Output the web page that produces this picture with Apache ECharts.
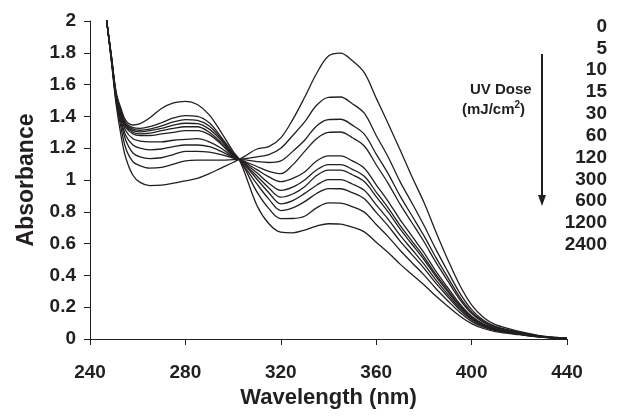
<!DOCTYPE html>
<html>
<head>
<meta charset="utf-8">
<script src="https://cdn.jsdelivr.net/npm/echarts@6/dist/echarts.min.js"></script>
<style>
html,body{margin:0;padding:0;background:#fff;}
#chart{width:631px;height:418px;}
</style>
</head>
<body>
<div id="chart"></div>
<script>
// Wavelengths (nm)
var wavelengths = [245, 247, 249, 251, 253, 255, 258, 261, 265, 270, 275, 280, 285, 290, 295, 300, 302.5, 305, 310, 315, 320, 325, 330, 335, 340, 345, 350, 355, 360, 365, 370, 375, 380, 385, 390, 395, 400, 405, 410, 420, 430, 440];

// UV dose labels (mJ/cm2)
var doses = ['0', '5', '10', '15', '30', '60', '120', '300', '600', '1200', '2400'];

// Absorbance for each dose
var abs0 = [2.25, 2.0, 1.74, 1.47, 1.28, 1.14, 1.03, 0.985, 0.965, 0.968, 0.98, 0.995, 1.01, 1.04, 1.075, 1.11, 1.13, 1.15, 1.195, 1.21, 1.265, 1.38, 1.52, 1.67, 1.78, 1.798, 1.75, 1.675, 1.515, 1.355, 1.19, 1.02, 0.86, 0.675, 0.50, 0.34, 0.215, 0.135, 0.09, 0.048, 0.018, 0.005];
var abs5 = [2.25, 2.0, 1.75, 1.49, 1.33, 1.20, 1.115, 1.09, 1.075, 1.08, 1.10, 1.12, 1.125, 1.125, 1.125, 1.128, 1.13, 1.135, 1.145, 1.16, 1.20, 1.28, 1.365, 1.47, 1.52, 1.522, 1.48, 1.42, 1.28, 1.145, 0.99, 0.855, 0.715, 0.565, 0.425, 0.29, 0.185, 0.118, 0.08, 0.043, 0.016, 0.005];
var abs10 = [2.25, 2.0, 1.755, 1.50, 1.36, 1.25, 1.17, 1.145, 1.135, 1.14, 1.16, 1.18, 1.18, 1.175, 1.16, 1.138, 1.13, 1.126, 1.115, 1.11, 1.12, 1.18, 1.25, 1.34, 1.38, 1.382, 1.345, 1.288, 1.163, 1.04, 0.90, 0.775, 0.65, 0.513, 0.388, 0.265, 0.17, 0.11, 0.075, 0.04, 0.015, 0.004];
var abs15 = [2.25, 2.0, 1.76, 1.51, 1.38, 1.28, 1.22, 1.20, 1.19, 1.195, 1.21, 1.22, 1.22, 1.21, 1.18, 1.142, 1.13, 1.116, 1.085, 1.055, 1.04, 1.095, 1.18, 1.26, 1.30, 1.302, 1.266, 1.214, 1.096, 0.979, 0.848, 0.731, 0.613, 0.483, 0.365, 0.25, 0.16, 0.104, 0.071, 0.038, 0.014, 0.004];
var abs30 = [2.25, 2.0, 1.76, 1.52, 1.40, 1.31, 1.26, 1.245, 1.24, 1.24, 1.25, 1.255, 1.26, 1.24, 1.20, 1.146, 1.13, 1.11, 1.065, 1.02, 0.99, 1.01, 1.05, 1.12, 1.152, 1.152, 1.12, 1.074, 0.97, 0.866, 0.751, 0.647, 0.543, 0.427, 0.323, 0.222, 0.143, 0.094, 0.065, 0.035, 0.013, 0.004];
var abs60 = [2.25, 2.0, 1.765, 1.52, 1.41, 1.33, 1.29, 1.28, 1.28, 1.29, 1.30, 1.31, 1.31, 1.285, 1.225, 1.15, 1.13, 1.104, 1.045, 0.98, 0.935, 0.955, 1.0, 1.063, 1.097, 1.097, 1.067, 1.023, 0.924, 0.825, 0.715, 0.616, 0.517, 0.407, 0.308, 0.212, 0.138, 0.09, 0.063, 0.034, 0.013, 0.004];
var abs120 = [2.25, 2.0, 1.765, 1.53, 1.42, 1.34, 1.30, 1.29, 1.295, 1.31, 1.325, 1.335, 1.335, 1.30, 1.235, 1.155, 1.13, 1.098, 1.025, 0.95, 0.892, 0.912, 0.958, 1.028, 1.062, 1.062, 1.033, 0.99, 0.895, 0.799, 0.692, 0.596, 0.50, 0.394, 0.298, 0.205, 0.134, 0.088, 0.061, 0.033, 0.012, 0.004];
var abs300 = [2.25, 2.0, 1.77, 1.53, 1.425, 1.345, 1.31, 1.303, 1.31, 1.325, 1.345, 1.357, 1.355, 1.32, 1.25, 1.16, 1.13, 1.092, 1.005, 0.92, 0.85, 0.87, 0.916, 0.967, 1.002, 1.002, 0.975, 0.935, 0.844, 0.754, 0.653, 0.563, 0.472, 0.372, 0.281, 0.194, 0.127, 0.084, 0.058, 0.032, 0.012, 0.004];
var abs600 = [2.25, 2.0, 1.77, 1.535, 1.43, 1.35, 1.32, 1.313, 1.32, 1.34, 1.365, 1.38, 1.375, 1.34, 1.26, 1.165, 1.13, 1.08, 0.975, 0.88, 0.808, 0.825, 0.864, 0.915, 0.946, 0.945, 0.92, 0.882, 0.796, 0.711, 0.616, 0.531, 0.446, 0.351, 0.266, 0.184, 0.121, 0.08, 0.056, 0.031, 0.012, 0.004];
var abs1200 = [2.25, 2.0, 1.775, 1.54, 1.435, 1.36, 1.33, 1.325, 1.335, 1.36, 1.39, 1.405, 1.40, 1.36, 1.27, 1.17, 1.13, 1.07, 0.925, 0.82, 0.757, 0.758, 0.772, 0.825, 0.856, 0.855, 0.832, 0.798, 0.72, 0.644, 0.558, 0.48, 0.403, 0.318, 0.241, 0.168, 0.111, 0.074, 0.052, 0.029, 0.011, 0.003];
var abs2400 = [2.25, 2.0, 1.78, 1.55, 1.45, 1.375, 1.346, 1.355, 1.39, 1.45, 1.485, 1.495, 1.475, 1.41, 1.30, 1.18, 1.13, 1.04, 0.84, 0.725, 0.672, 0.668, 0.685, 0.71, 0.725, 0.722, 0.703, 0.674, 0.609, 0.544, 0.471, 0.406, 0.341, 0.27, 0.206, 0.145, 0.097, 0.066, 0.047, 0.027, 0.01, 0.003];

var allAbs = [abs0, abs5, abs10, abs15, abs30, abs60, abs120, abs300, abs600, abs1200, abs2400];

var xTicks = [240, 280, 320, 360, 400, 440];
var yTicks = [0, 0.2, 0.4, 0.6, 0.8, 1, 1.2, 1.4, 1.6, 1.8, 2];

var INK = '#231f20';
var FONT = '"Liberation Sans", Arial, Helvetica, sans-serif';

var chart = echarts.init(document.getElementById('chart'), null, {renderer: 'canvas'});

var series = allAbs.map(function (arr, i) {
  return {
    name: doses[i],
    type: 'line',
    data: wavelengths.map(function (w, j) { return [w, arr[j]]; }),
    showSymbol: false,
    symbol: 'none',
    smooth: 0.35,
    clip: true,
    lineStyle: {color: INK, width: 1.3},
    silent: true,
    animation: false
  };
});

var graphics = [];
doses.forEach(function (d, i) {
  graphics.push({
    type: 'text',
    right: 24,
    top: 17 + i * 21.84,
    style: {text: d, font: 'bold 19px ' + FONT, fill: INK, textAlign: 'right'}
  });
});
graphics.push({
  type: 'text', left: 470, top: 82,
  style: {text: 'UV Dose', font: 'bold 15px ' + FONT, fill: INK}
});
graphics.push({
  type: 'text', left: 462, top: 100,
  style: {
    text: '{a|(mJ/cm}{s|2}{a|)}',
    rich: {
      a: {fontFamily: FONT, fontWeight: 'bold', fontSize: 15, lineHeight: 20, fill: INK, color: INK},
      s: {fontFamily: FONT, fontWeight: 'bold', fontSize: 10, lineHeight: 20, verticalAlign: 'top', fill: INK, color: INK}
    }
  }
});
graphics.push({
  type: 'line', shape: {x1: 542, y1: 54, x2: 542, y2: 197},
  style: {stroke: INK, lineWidth: 2}
});
graphics.push({
  type: 'polygon', shape: {points: [[538, 195], [546, 195], [542, 206]]},
  style: {fill: INK}
});

chart.setOption({
  animation: false,
  backgroundColor: '#fff',
  grid: {left: 90, right: 64, top: 21, bottom: 79, containLabel: false},
  xAxis: {
    type: 'value',
    min: xTicks[0], max: xTicks[xTicks.length - 1], interval: 40,
    name: 'Wavelength (nm)',
    nameLocation: 'middle',
    nameGap: 42,
    nameTextStyle: {fontFamily: FONT, fontWeight: 'bold', fontSize: 22, color: INK},
    axisLine: {show: true, lineStyle: {color: INK, width: 1}},
    axisTick: {show: true, inside: false, length: 6, lineStyle: {color: INK, width: 1}},
    axisLabel: {margin: 24, fontFamily: FONT, fontWeight: 'bold', fontSize: 19, color: INK},
    splitLine: {show: false}
  },
  yAxis: {
    type: 'value',
    min: yTicks[0], max: yTicks[yTicks.length - 1], interval: 0.2,
    name: 'Absorbance',
    nameLocation: 'middle',
    nameGap: 52,
    nameTextStyle: {fontFamily: FONT, fontWeight: 'bold', fontSize: 23, color: INK},
    axisLine: {show: true, lineStyle: {color: INK, width: 1}},
    axisTick: {show: true, inside: false, length: 6, lineStyle: {color: INK, width: 1}},
    axisLabel: {margin: 14, fontFamily: FONT, fontWeight: 'bold', fontSize: 19, color: INK,
      formatter: function (v) { return String(Math.round(v * 10) / 10); }},
    splitLine: {show: false}
  },
  series: series,
  graphic: graphics
});
</script>
</body>
</html>
